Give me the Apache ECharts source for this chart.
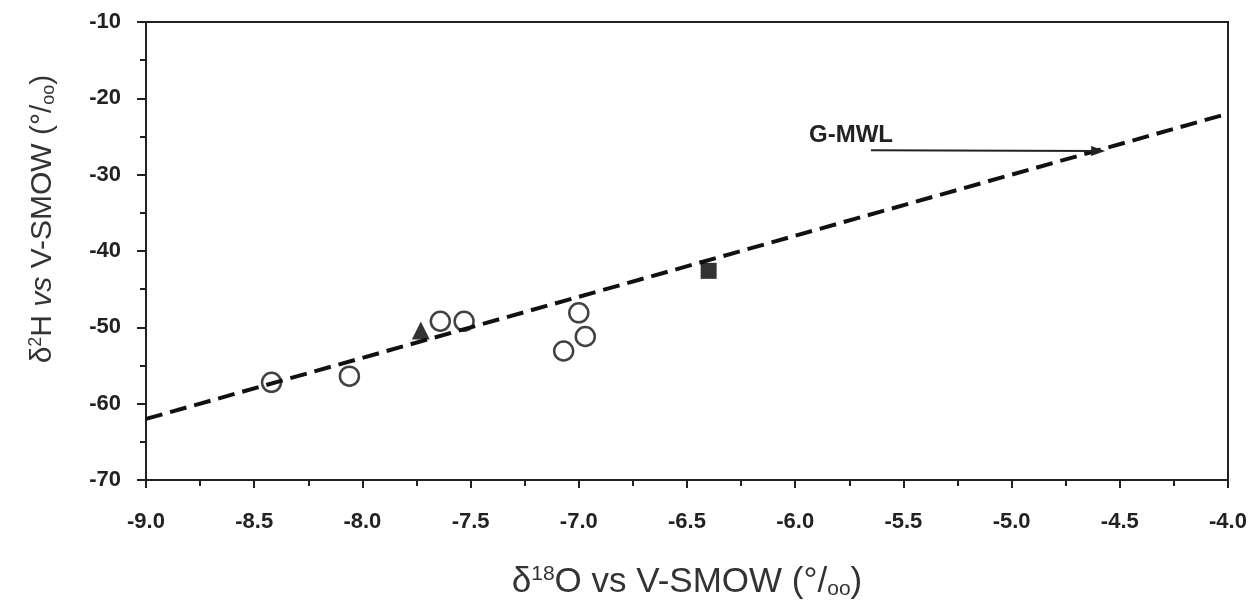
<!DOCTYPE html>
<html>
<head>
<meta charset="utf-8">
<script src="https://cdn.jsdelivr.net/npm/echarts@6/dist/echarts.min.js"></script>
<style>
  html, body { margin: 0; padding: 0; background: #fff; }
  #chart { width: 1255px; height: 606px; }
</style>
</head>
<body>
<div id="chart"></div>
<script>
    // samples (open circles)
    var circleX = [-8.42, -8.06, -7.64, -7.53, -7.07, -7.00, -6.97];
    var circleY = [-57.2, -56.4, -49.2, -49.2, -53.1, -48.1, -51.2];
    // filled triangle + square
    var triangleX = [-7.73];
    var triangleY = [-50.4];
    var squareX = [-6.40];
    var squareY = [-42.6];
    // global meteoric water line end points
    var gmwlX = [-9.0, -4.0];
    var gmwlY = [-62, -22];
    // arrow pointing at the line
    var arrowFrom = [-5.65, -26.8];
    var arrowTo = [-4.60, -26.9];

    function pairs(xs, ys) {
        return xs.map(function (x, i) { return [x, ys[i]]; });
    }

    var font = 'Liberation Sans, Arial, sans-serif';
    var chart = echarts.init(document.getElementById('chart'));

    chart.setOption({
        animation: false,
        grid: {
            left: 146, right: 27, top: 22, bottom: 126,
            show: true, borderColor: '#222', borderWidth: 2
        },
        xAxis: {
            type: 'value',
            min: -9, max: -4, interval: 0.5,
            name: '{d|δ}{sup|18}{d|O vs V-SMOW (°/}{sub|oo}{d|)}',
            nameLocation: 'middle',
            nameGap: 84,
            nameTextStyle: {
                rich: {
                    d: { fontFamily: font, fontSize: 35, color: '#333' },
                    sup: { fontFamily: font, fontSize: 21, color: '#333', verticalAlign: 'top', padding: [0, 0, 15, 0] },
                    sub: { fontFamily: font, fontSize: 21, color: '#333', verticalAlign: 'bottom', padding: [15, 0, 0, 0] }
                }
            },
            axisLine: { onZero: false, lineStyle: { color: '#222', width: 2 } },
            axisTick: { inside: false, length: 8, lineStyle: { color: '#222', width: 2 } },
            minorTick: { show: true, splitNumber: 2, length: 6, lineStyle: { color: '#222', width: 2 } },
            splitLine: { show: false },
            axisLabel: {
                margin: 31, fontFamily: font, fontSize: 22, fontWeight: 'bold', color: '#222',
                formatter: function (v) { return v.toFixed(1); }
            }
        },
        yAxis: {
            type: 'value',
            min: -70, max: -10, interval: 10,
            name: '{d|δ}{sup|2}{d|H }{i|vs}{d| V-SMOW (°/}{sub|oo}{d|)}',
            nameLocation: 'middle',
            nameGap: 88,
            nameRotate: 90,
            nameTextStyle: {
                padding: [0, 0, 0, 64],
                rich: {
                    d: { fontFamily: font, fontSize: 30, color: '#333' },
                    i: { fontFamily: font, fontSize: 30, color: '#333', fontStyle: 'italic' },
                    sup: { fontFamily: font, fontSize: 18, color: '#333', verticalAlign: 'top', padding: [0, 0, 13, 0] },
                    sub: { fontFamily: font, fontSize: 18, color: '#333', verticalAlign: 'bottom', padding: [13, 0, 0, 0] }
                }
            },
            axisLine: { onZero: false, lineStyle: { color: '#222', width: 2 } },
            axisTick: { inside: false, length: 9, lineStyle: { color: '#222', width: 2 } },
            minorTick: { show: true, splitNumber: 2, length: 6, lineStyle: { color: '#222', width: 2 } },
            splitLine: { show: false },
            axisLabel: {
                margin: 25, fontFamily: font, fontSize: 22, fontWeight: 'bold', color: '#222'
            }
        },
        series: [
            {
                name: 'G-MWL',
                type: 'line',
                data: pairs(gmwlX, gmwlY),
                symbol: 'none',
                lineStyle: { color: '#111', width: 4, type: [17, 8] },
                z: 2,
                markLine: {
                    silent: true,
                    symbol: ['none', 'triangle'],
                    symbolSize: [10, 14],
                    label: { show: false },
                    lineStyle: { color: '#222', width: 2, type: 'solid' },
                    data: [[{ coord: arrowFrom }, { coord: arrowTo }]]
                }
            },
            {
                type: 'scatter',
                data: pairs(circleX, circleY),
                symbol: 'circle',
                symbolSize: 19,
                itemStyle: { color: 'rgba(0,0,0,0)', borderColor: '#111', borderWidth: 2.5 },
                z: 3
            },
            {
                type: 'scatter',
                data: pairs(triangleX, triangleY),
                symbol: 'triangle',
                symbolSize: 18,
                itemStyle: { color: '#000' },
                z: 3
            },
            {
                type: 'scatter',
                data: pairs(squareX, squareY),
                symbol: 'rect',
                symbolSize: 16,
                itemStyle: { color: '#000' },
                z: 3
            }
        ],
        graphic: [{
            type: 'text',
            left: 809,
            top: 123,
            style: { text: 'G-MWL', font: 'bold 24px ' + font, fill: '#222' }
        }]
    });
</script>
</body>
</html>
